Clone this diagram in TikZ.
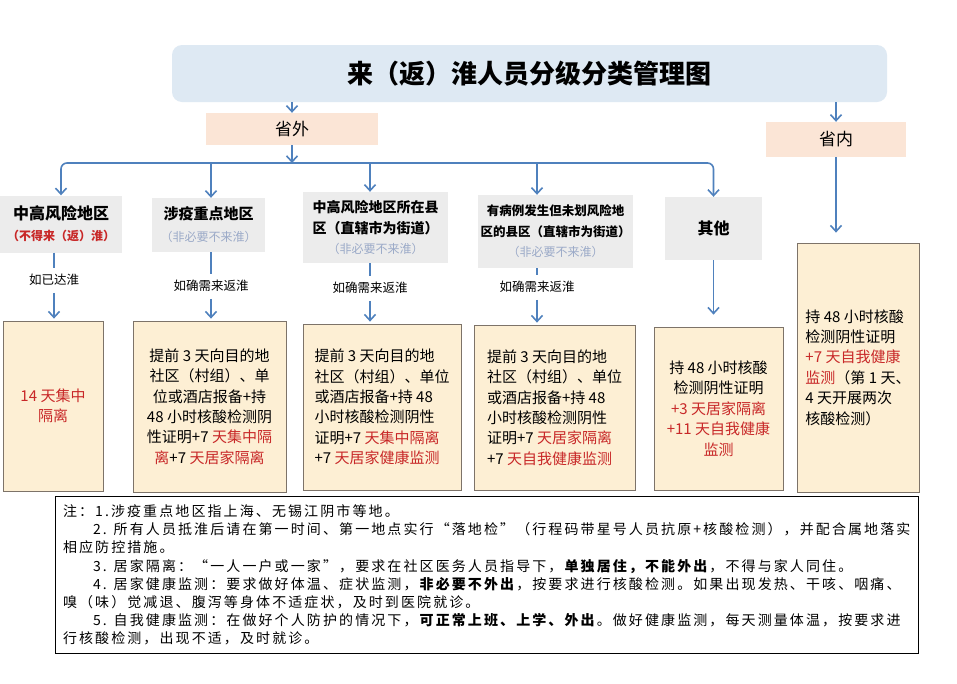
\documentclass[tikz,border=0pt]{standalone}
\usepackage{fontspec}
\setmainfont{Noto Sans CJK SC}
\newfontfamily\notefont[LetterSpace=15]{Noto Sans CJK SC}
\usetikzlibrary{arrows.meta}

\definecolor{arrblue}{RGB}{79,129,189}
\definecolor{titleblue}{RGB}{222,233,243}
\definecolor{peach}{RGB}{251,229,214}
\definecolor{greyfill}{RGB}{236,236,236}
\definecolor{yfill}{RGB}{253,239,212}
\definecolor{yline}{RGB}{125,115,105}
\definecolor{redtxt}{RGB}{200,40,40}
\definecolor{paletxt}{RGB}{155,170,200}

\newcommand{\rd}[1]{\textcolor{redtxt}{#1}}

\begin{document}
\begin{tikzpicture}[x=1pt,y=-1pt,
  arr/.style={-{Straight Barb[length=6pt,width=11pt]},line width=1.6pt,arrblue},
  stem/.style={line width=1.6pt,arrblue},
  greybox/.style={fill=greyfill,inner sep=2pt,align=center},
  ybox/.style={draw=yline,fill=yfill,line width=0.8pt,inner sep=6pt,
    font=\fontsize{15}{20.4}\selectfont},
  pbox/.style={fill=peach,font=\fontsize{17}{20}\selectfont},
  lbl/.style={font=\fontsize{12.5}{14}\selectfont,inner sep=2pt}]

  \fill[white] (0,0) rectangle (957,683);
  \useasboundingbox (0,0) rectangle (957,683);

  % title and the two main branches
  \node[fill=titleblue,rounded corners=10pt,minimum width=715pt,minimum height=57pt,
    font=\fontsize{26}{30}\selectfont\bfseries] (title) at (529.5,73.5) {来（返）淮人员分级分类管理图};
  \node[pbox,minimum width=172pt,minimum height=32pt] (wai) at (292,129) {省外};
  \node[pbox,minimum width=140pt,minimum height=35pt] (nei) at (836,139.5) {省内};
  \coordinate (bus) at (292,163);

  % area categories
  \node[greybox,minimum width=122pt,minimum height=57pt,font=\fontsize{16}{21}\selectfont] (g1) at (61,224)
    {{\bfseries 中高风险地区}\\
     {\fontsize{12}{16}\selectfont\bfseries\color{redtxt}（不得来（返）淮）}};
  \node[greybox,minimum width=113pt,minimum height=54pt,font=\fontsize{15}{22}\selectfont] (g2) at (208.5,225)
    {{\bfseries 涉疫重点地区}\\
     {\fontsize{12}{16}\selectfont\color{paletxt}（非必要不来淮）}};
  \node[greybox,minimum width=145pt,minimum height=71pt,font=\fontsize{14}{20.5}\selectfont] (g3) at (375.5,227.5)
    {{\bfseries 中高风险地区所在县}\\
     {\bfseries 区（直辖市为街道）}\\
     {\fontsize{12}{20.5}\selectfont\color{paletxt}（非必要不来淮）}};
  \node[greybox,minimum width=155pt,minimum height=73pt,font=\fontsize{12.5}{20.5}\selectfont] (g4) at (555.5,231.5)
    {{\bfseries 有病例发生但未划风险地}\\
     {\bfseries 区的县区（直辖市为街道）}\\
     {\fontsize{12}{20.5}\selectfont\color{paletxt}（非必要不来淮）}};
  \node[greybox,minimum width=97pt,minimum height=63pt,
    font=\fontsize{16}{20}\selectfont\bfseries] (g5) at (713.5,228.5) {其他};

  \node[lbl] (l1) at (54,280) {如已达淮};
  \node[lbl] (l2) at (211,286) {如确需来返淮};
  \node[lbl] (l3) at (370,288) {如确需来返淮};
  \node[lbl] (l4) at (537,287) {如确需来返淮};

  % measures
  \node[ybox,minimum width=100pt,minimum height=170pt,align=center,text=redtxt] (r1) at (53,406)
    {14 天集中\\隔离};
  \node[ybox,minimum width=153pt,minimum height=171pt,align=center] (r2) at (209.5,406.5)
    {提前 3 天向目的地\\社区（村组）、单\\位或酒店报备+持\\48 小时核酸检测阴\\性证明+7 \rd{天集中隔}\\\rd{离}+7 \rd{天居家隔离}};
  \node[ybox,minimum width=158pt,minimum height=166pt,align=left] (r3) at (382,407)
    {提前 3 天向目的地\\社区（村组）、单位\\或酒店报备+持 48\\小时核酸检测阴性\\证明+7 \rd{天集中隔离}\\+7 \rd{天居家健康监测}};
  \node[ybox,minimum width=161pt,minimum height=165pt,align=left] (r4) at (554.5,407.5)
    {提前 3 天向目的地\\社区（村组）、单位\\或酒店报备+持 48\\小时核酸检测阴性\\证明+7 \rd{天居家隔离}\\+7 \rd{天自我健康监测}};
  \node[ybox,minimum width=129pt,minimum height=163pt,align=center] (r5) at (718.5,408.5)
    {持 48 小时核酸\\检测阴性证明\\\rd{+3 天居家隔离}\\\rd{+11 天自我健康}\\\rd{监测}};
  \node[ybox,minimum width=122pt,minimum height=249pt,align=left] (r6) at (858,367.5)
    {持 48 小时核酸\\检测阴性证明\\\rd{+7 天自我健康}\\\rd{监测}（第 1 天、\\4 天开展两次\\核酸检测）};

  % notes
  \node[draw,line width=0.8pt,minimum width=863pt,minimum height=156pt,text width=847pt,
    inner sep=8pt,align=left,font=\notefont\fontsize{14}{18.2}\selectfont] (notes) at (486.5,575)
    {注：1.涉疫重点地区指上海、无锡江阴市等地。\\
     \hspace*{30pt}2. 所有人员抵淮后请在第一时间、第一地点实行“落地检”（行程码带星号人员抗原+核酸检测），并配合属地落实\\
     相应防控措施。\\
     \hspace*{30pt}3. 居家隔离：“一人一户或一家”，要求在社区医务人员指导下，\textbf{单独居住，不能外出}，不得与家人同住。\\
     \hspace*{30pt}4. 居家健康监测：要求做好体温、症状监测，\textbf{非必要不外出}，按要求进行核酸检测。如果出现发热、干咳、咽痛、\\
     嗅（味）觉减退、腹泻等身体不适症状，及时到医院就诊。\\
     \hspace*{30pt}5. 自我健康监测：在做好个人防护的情况下，\textbf{可正常上班、上学、外出}。做好健康监测，每天测量体温，按要求进\\
     行核酸检测，出现不适，及时就诊。};

  % connectors
  \draw[arr] (title.south -| wai) -- (wai);
  \draw[arr] (title.south -| nei) -- (nei);
  \draw[arr] (wai) -- (bus);
  \draw[{Straight Barb[length=6pt,width=11pt]}-{Straight Barb[length=6pt,width=11pt]},
    line width=1.6pt,arrblue,rounded corners=6pt] (g1.north) |- (bus) -| (g5.north);
  \draw[arr] (bus -| l2) -- (g2.north -| l2);
  \draw[arr] (bus -| l3) -- (g3.north -| l3);
  \draw[arr] (bus -| l4) -- (g4.north -| l4);

  \draw[stem,shorten >=4pt] (g1.south -| l1) -- (l1);
  \draw[stem,shorten >=4pt] (g2.south -| l2) -- (l2);
  \draw[stem,shorten >=4pt] (g3.south -| l3) -- (l3);
  \draw[stem,shorten >=4pt] (g4.south -| l4) -- (l4);
  \draw[arr,shorten <=5pt,shorten >=2pt] (l1) -- (r1.north -| l1);
  \draw[arr,shorten <=5pt,shorten >=2pt] (l2) -- (r2.north -| l2);
  \draw[arr,shorten <=5pt,shorten >=2pt] (l3) -- (r3.north -| l3);
  \draw[arr,shorten <=5pt,shorten >=2pt] (l4) -- (r4.north -| l4);
  \draw[arr,shorten >=12pt] (g5.south) -- (g5.south |- r5.north);
  \draw[arr,shorten >=10pt] (nei.south) -- (nei.south |- r6.north);
\end{tikzpicture}
\end{document}
